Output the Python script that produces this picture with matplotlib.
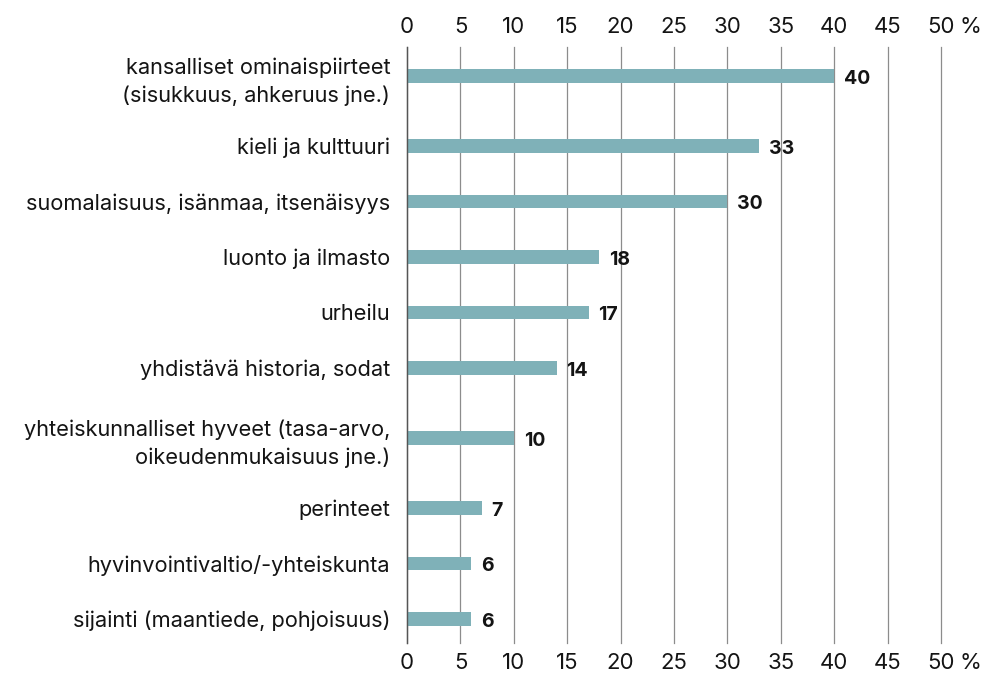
import matplotlib.pyplot as plt

plt.rcParams['font.family'] = ['Inter', 'DejaVu Sans']

# Data
categories = [
    "kansalliset ominaispiirteet\n(sisukkuus, ahkeruus jne.)",
    "kieli ja kulttuuri",
    "suomalaisuus, isänmaa, itsenäisyys",
    "luonto ja ilmasto",
    "urheilu",
    "yhdistävä historia, sodat",
    "yhteiskunnalliset hyveet (tasa-arvo,\noikeudenmukaisuus jne.)",
    "perinteet",
    "hyvinvointivaltio/-yhteiskunta",
    "sijainti (maantiede, pohjoisuus)",
]
values = [40, 33, 30, 18, 17, 14, 10, 7, 6, 6]
xticks = [0, 5, 10, 15, 20, 25, 30, 35, 40, 45, 50]

bar_color = "#7fb1b8"
text_color = "#141414"

# row positions: two-line labels get a bit more room
extra = [c.count("\n") for c in categories]
ypos = [0.0]
for i in range(1, len(categories)):
    ypos.append(ypos[-1] + 1 + 0.26 * (extra[i - 1] + extra[i]))

fig = plt.figure(figsize=(9.82, 6.74), dpi=100)
ax = fig.add_axes([0.4145, 0.046, 0.9583 - 0.4145, 0.9303 - 0.046])

ax.barh(ypos, values, height=0.24, color=bar_color, zorder=3)
ax.set_ylim(ypos[-1] + 0.43, -0.52)
ax.set_xlim(0, 50)

for y, v in zip(ypos, values):
    ax.annotate(str(v), xy=(v, y), xytext=(7, -2), textcoords="offset points",
                ha="left", va="center", fontsize=14, fontweight="bold",
                color=text_color)

ax.set_yticks(ypos)
ax.set_yticklabels(categories, fontsize=15.7, color=text_color, linespacing=1.45)
ax.tick_params(axis="y", length=0, pad=12)

ax.set_xticks(xticks)
ax.set_xticklabels([str(t) for t in xticks])
ax.tick_params(axis="x", length=0, labelsize=16, labelcolor=text_color,
               top=True, labeltop=True, bottom=True, labelbottom=True, pad=7)
ax.xaxis.grid(True, color="#8c8c8c", linewidth=0.9, zorder=0)
for gl in ax.get_xgridlines():
    gl.set_clip_on(False)

for s in ["top", "right", "bottom"]:
    ax.spines[s].set_visible(False)
ax.spines["left"].set_color("#555555")
ax.spines["left"].set_linewidth(1.0)
ax.spines["left"].set_zorder(4)

# percent sign next to the last tick label, top and bottom
for yfrac, dy, va in [(1, 7, "bottom"), (0, -7, "top")]:
    ax.annotate("%", xy=(50, yfrac), xycoords=("data", "axes fraction"),
                xytext=(13, dy), textcoords="offset points",
                ha="left", va=va, fontsize=16, color=text_color)

fig.savefig("out.png", dpi=100)
